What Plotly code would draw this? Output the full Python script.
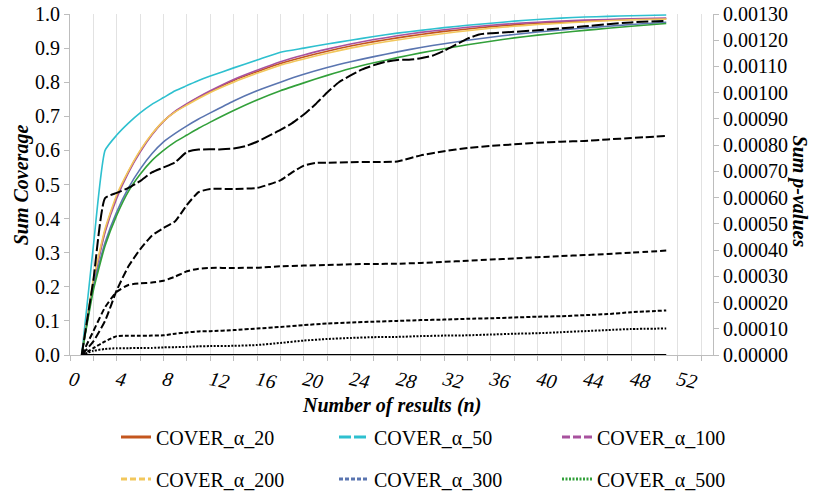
import plotly.graph_objects as go

# ---------------- data ----------------
n_cov = [1, 2, 3, 4, 5, 6, 7, 8, 9, 10, 11, 12, 14, 16, 18, 20, 22, 24, 26, 28,
         30, 32, 34, 36, 38, 40, 42, 44, 46, 48, 51]

cov_20 = [0, 0.215, 0.365, 0.465, 0.538, 0.598, 0.647, 0.686, 0.714, 0.735, 0.755,
          0.773, 0.805, 0.831, 0.855, 0.874, 0.891, 0.906, 0.919, 0.93, 0.94, 0.949,
          0.956, 0.963, 0.968, 0.973, 0.976, 0.979, 0.982, 0.984, 0.986]
cov_50 = [0, 0.32, 0.6, 0.645, 0.68, 0.71, 0.735, 0.755, 0.775, 0.79, 0.805, 0.818,
          0.842, 0.865, 0.888, 0.9, 0.912, 0.923, 0.934, 0.944, 0.952, 0.96, 0.967,
          0.973, 0.979, 0.984, 0.988, 0.991, 0.993, 0.995, 0.997]
cov_100 = [0, 0.21, 0.36, 0.46, 0.535, 0.595, 0.645, 0.685, 0.715, 0.737, 0.757,
           0.775, 0.808, 0.835, 0.86, 0.88, 0.897, 0.912, 0.925, 0.936, 0.946, 0.954,
           0.961, 0.967, 0.972, 0.976, 0.979, 0.982, 0.984, 0.986, 0.988]
cov_200 = [0, 0.22, 0.37, 0.47, 0.54, 0.6, 0.648, 0.686, 0.713, 0.733, 0.752, 0.77,
           0.8, 0.826, 0.85, 0.868, 0.885, 0.9, 0.913, 0.924, 0.934, 0.943, 0.951,
           0.958, 0.964, 0.969, 0.973, 0.977, 0.98, 0.983, 0.985]
cov_300 = [0, 0.2, 0.33, 0.42, 0.49, 0.545, 0.59, 0.625, 0.65, 0.672, 0.692, 0.71,
           0.745, 0.775, 0.8, 0.823, 0.843, 0.86, 0.875, 0.889, 0.902, 0.913, 0.923,
           0.932, 0.94, 0.947, 0.953, 0.959, 0.964, 0.969, 0.976]
cov_500 = [0, 0.19, 0.32, 0.41, 0.48, 0.53, 0.57, 0.6, 0.625, 0.645, 0.665, 0.683,
           0.717, 0.748, 0.775, 0.798, 0.82, 0.84, 0.857, 0.872, 0.886, 0.898, 0.91,
           0.92, 0.93, 0.938, 0.945, 0.952, 0.958, 0.964, 0.972]

n_p20 = [1, 51]
p_20 = [0, 0]

n_p50 = list(range(1, 37)) + [38, 40, 42, 44, 46, 48, 51]
p_50 = [0, 0.000286, 0.000598, 0.000618, 0.000637, 0.000663, 0.000696, 0.000715,
        0.000735, 0.000774, 0.000783, 0.000784, 0.000784, 0.000787, 0.000796,
        0.000813, 0.000835, 0.000858, 0.000884, 0.000917, 0.000956, 0.001001,
        0.00104, 0.001066, 0.001089, 0.001105, 0.001118, 0.001125, 0.001126,
        0.001131, 0.001141, 0.00116, 0.001183, 0.001206, 0.001222, 0.001227,
        0.001232, 0.001238, 0.001245, 0.001253, 0.001261, 0.001268, 0.001274]

n_p100 = [1, 2, 3, 4, 5, 6, 7, 8, 9, 10, 11, 12, 14, 16, 17, 18, 19, 20, 21, 22,
          24, 26, 28, 30, 32, 34, 36, 38, 40, 42, 44, 46, 48, 51]
p_100 = [0, 0.000052, 0.00013, 0.000247, 0.000338, 0.000403, 0.000455, 0.000484,
         0.00051, 0.000572, 0.000621, 0.000633, 0.000633, 0.000637, 0.00065,
         0.000666, 0.000696, 0.000722, 0.000732, 0.000733, 0.000735, 0.000736,
         0.000738, 0.000761, 0.000777, 0.000789, 0.000797, 0.000803, 0.000809,
         0.000813, 0.000816, 0.000822, 0.000827, 0.000835]

n_p = [1, 2, 3, 4, 5, 6, 7, 8, 9, 10, 11, 12, 14, 16, 18, 20, 22, 24, 26, 28,
       30, 32, 34, 36, 38, 40, 42, 44, 46, 48, 51]
p_200 = [0, 0.000091, 0.000182, 0.000241, 0.000267, 0.000273, 0.000276, 0.000283,
         0.000299, 0.000319, 0.000329, 0.000332, 0.000332, 0.000333, 0.000338,
         0.000341, 0.000343, 0.000346, 0.000347, 0.000348, 0.000351, 0.000355,
         0.000359, 0.000364, 0.000368, 0.000373, 0.000377, 0.000381, 0.000385,
         0.00039, 0.000398]
p_300 = [0, 0.000026, 0.000052, 0.000072, 0.000073, 0.000073, 0.000074, 0.000075,
         0.000081, 0.000086, 0.00009, 0.000091, 0.000095, 0.000101, 0.000107,
         0.000114, 0.00012, 0.000124, 0.000127, 0.00013, 0.000133, 0.000135,
         0.000138, 0.00014, 0.000143, 0.000146, 0.000148, 0.000152, 0.000156,
         0.000163, 0.00017]
p_500 = [0, 0.000016, 0.000023, 0.000026, 0.000026, 0.000027, 0.000027, 0.000029,
         0.00003, 0.000031, 0.000033, 0.000034, 0.000035, 0.000038, 0.000046,
         0.000055, 0.000061, 0.000065, 0.000068, 0.000069, 0.000072, 0.000074,
         0.000075, 0.000078, 0.000081, 0.000083, 0.000087, 0.000091, 0.000095,
         0.000099, 0.000101]

names = ["COVER_α_20", "COVER_α_50", "COVER_α_100",
         "COVER_α_200", "COVER_α_300", "COVER_α_500"]
colors = ["#C4561E", "#2EC0CF", "#A8529E", "#F2C75C", "#5A75B0", "#32A03A"]
dashes = ["solid", "12px,3px", "8px,3px", "6px,3px", "4px,2px", "2px,1.5px"]

cov_series = [cov_20, cov_50, cov_100, cov_200, cov_300, cov_500]
p_x = [n_p20, n_p50, n_p100, n_p, n_p, n_p]
p_series = [p_20, p_50, p_100, p_200, p_300, p_500]

FONT = "Liberation Serif"
W, H = 821, 493

fig = go.Figure()

# coverage curves (left axis), coloured solid
for name, col, ys in zip(names, colors, cov_series):
    fig.add_trace(go.Scatter(x=n_cov, y=ys, mode="lines", name=name,
                             line=dict(color=col, width=1.6, shape="spline", smoothing=0.5),
                             showlegend=False, hoverinfo="skip"))

# p-value curves (right axis), black dashed
for name, dash, xs, ys in zip(names, dashes, p_x, p_series):
    fig.add_trace(go.Scatter(x=xs, y=ys, mode="lines", name=name, yaxis="y2",
                             line=dict(color="black", width=2, dash=dash,
                                       shape="spline", smoothing=0.5),
                             showlegend=False, hoverinfo="skip"))

# legend entries: one legend box per entry, laid out as a 3 x 2 grid
legend_ids = ["legend", "legend2", "legend3", "legend4", "legend5", "legend6"]
col_x = [116, 334, 557]
row_y = [437, 479]
legend_layouts = {}
for i, (name, col, dash) in enumerate(zip(names, colors, dashes)):
    fig.add_trace(go.Scatter(x=[None], y=[None], mode="lines", name=name,
                             line=dict(color=col, width=3, dash=dash),
                             legend=legend_ids[i]))
    legend_layouts[legend_ids[i]] = dict(
        orientation="h", xref="container", yref="container",
        xanchor="left", yanchor="middle",
        x=col_x[i % 3] / W, y=1 - row_y[i // 3] / H,
        font=dict(family=FONT, size=20, color="black"),
        bgcolor="rgba(0,0,0,0)")

fig.update_layout(
    width=W, height=H,
    margin=dict(l=70, r=108, t=14, b=138, autoexpand=False),
    paper_bgcolor="white", plot_bgcolor="white",
    font=dict(family=FONT, size=20, color="black"),
    xaxis=dict(range=[0, 55], showgrid=True, gridcolor="#E2E2E2",
               gridwidth=1, showline=True, linecolor="#BDBDBD", ticks="outside",
               ticklen=5, tickcolor="#BDBDBD", tickangle=12, zeroline=False,
               tickfont=dict(family=FONT, size=20, style="italic"),
               tickvals=list(range(0, 53, 4)),
               minor=dict(dtick=2, tick0=0, showgrid=True, gridcolor="#E2E2E2",
                          ticks="outside", ticklen=5, tickcolor="#BDBDBD")),
    yaxis=dict(range=[0, 1.0], dtick=0.1, tickformat=".1f", showgrid=False,
               showline=True, linecolor="#BDBDBD", ticks="outside", ticklen=5,
               tickcolor="#BDBDBD", zeroline=False, ticklabeloverflow="allow",
               tickfont=dict(family=FONT, size=20)),
    yaxis2=dict(range=[0, 0.0013], dtick=0.0001, tickformat=".5f", overlaying="y",
                side="right", showgrid=False, showline=True, linecolor="#BDBDBD",
                ticks="outside", ticklen=5, tickcolor="#BDBDBD", zeroline=False,
                ticklabeloverflow="allow",
                tickfont=dict(family=FONT, size=20)),
    annotations=[
        dict(text="<b><i>Sum Coverage</i></b>", xref="paper", yref="paper",
             x=-0.075, y=0.5, textangle=-90, showarrow=False,
             xanchor="center", yanchor="middle",
             font=dict(family=FONT, size=20)),
        dict(text="<b><i>Sum p-values</i></b>", xref="paper", yref="paper",
             x=1.135, y=0.48, textangle=90, showarrow=False,
             xanchor="center", yanchor="middle",
             font=dict(family=FONT, size=20)),
        dict(text="<b><i>Number of results (n)</i></b>", xref="paper", yref="paper",
             x=0.5, y=-0.147, showarrow=False, xanchor="center", yanchor="middle",
             font=dict(family=FONT, size=20)),
    ],
    **legend_layouts,
)

fig.write_html("out.html", config={"displayModeBar": False},
               post_script="document.body.style.margin='0';document.body.style.overflow='hidden';")
